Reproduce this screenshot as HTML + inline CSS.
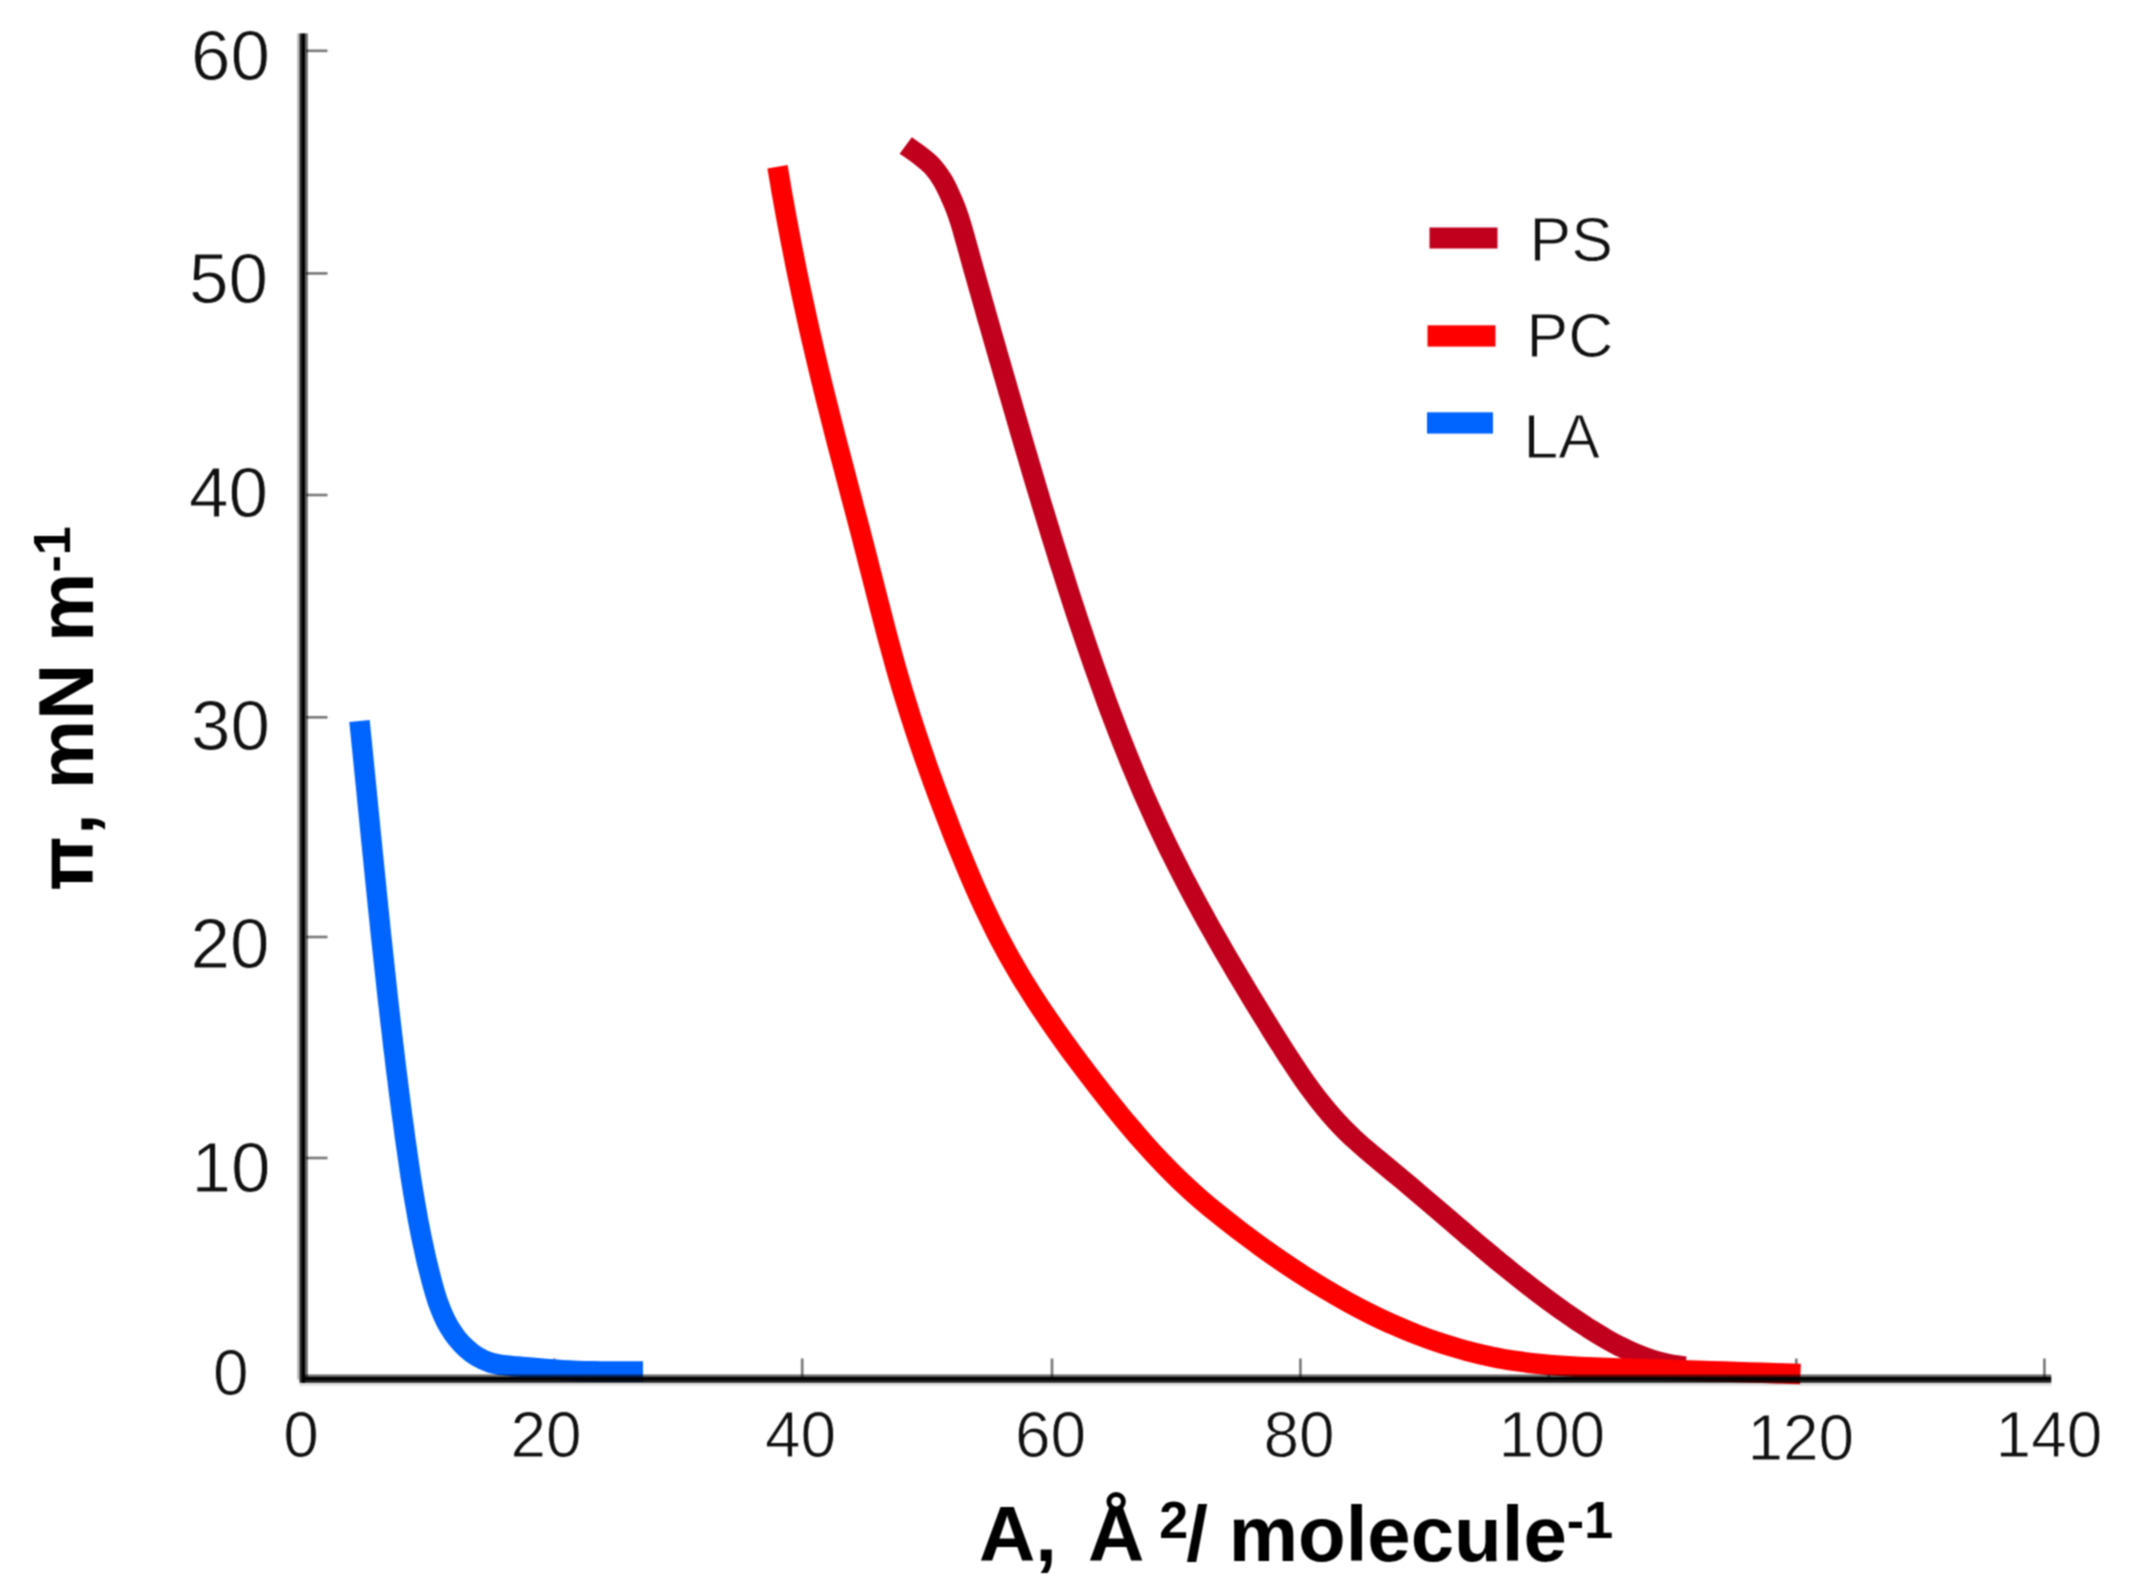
<!DOCTYPE html>
<html lang="en"><head><meta charset="utf-8"><title>Surface pressure isotherms</title>
<style>
html,body{margin:0;padding:0;background:#fff;}
body{width:2141px;height:1593px;overflow:hidden;}
svg{display:block;}
#wrap{width:2141px;height:1593px;}
text{font-family:"Liberation Sans",sans-serif;fill:#111;}
.tk,.tx,.lg{stroke:#fff;stroke-width:0.9px;}
.tk{font-size:71px;}
.tx{font-size:64px;}
.lg{font-size:62.5px;}
.ax{font-size:78px;font-weight:bold;fill:#000;}
.sup{font-size:52px;}
.pi{font-family:"WenQuanYi Zen Hei","Liberation Sans",sans-serif;font-weight:normal;font-size:82px;fill:#000;stroke:#000;stroke-width:3.5px;}
</style></head><body>
<div id="wrap">
<svg width="2141" height="1593" viewBox="0 0 2141 1593">
<defs><filter id="soft" x="0" y="0" width="2141" height="1593" filterUnits="userSpaceOnUse" color-interpolation-filters="sRGB"><feConvolveMatrix order="3" kernelMatrix="1 2 1 2 4 2 1 2 1" divisor="16" edgeMode="duplicate" preserveAlpha="true"/></filter></defs>
<g filter="url(#soft)">
<rect width="2141" height="1593" fill="#fff"/>
<g stroke="#000" stroke-opacity="0.52" stroke-width="2.7">
<line x1="306" y1="50.8" x2="327.5" y2="50.8"/>
<line x1="306" y1="273.4" x2="327.5" y2="273.4"/>
<line x1="306" y1="495" x2="327.5" y2="495"/>
<line x1="306" y1="717.3" x2="327.5" y2="717.3"/>
<line x1="306" y1="937" x2="327.5" y2="937"/>
<line x1="306" y1="1158" x2="327.5" y2="1158"/>
<line x1="554.5" y1="1358.5" x2="554.5" y2="1377"/>
<line x1="802.2" y1="1358.5" x2="802.2" y2="1377"/>
<line x1="1052" y1="1358.5" x2="1052" y2="1377"/>
<line x1="1300.4" y1="1358.5" x2="1300.4" y2="1377"/>
<line x1="1548.8" y1="1358.5" x2="1548.8" y2="1377"/>
<line x1="1796.3" y1="1358.5" x2="1796.3" y2="1377"/>
<line x1="2044.4" y1="1358.5" x2="2044.4" y2="1377"/>
</g>
<g fill="none" stroke-width="20.5" stroke-linecap="butt" stroke-linejoin="round">
<path stroke="#c0001c" d="M905.7 145.4 C908.0 147.1 915.1 151.8 919.5 155.3 C924.0 158.8 928.6 162.3 932.4 166.4 C936.2 170.5 939.4 175.1 942.3 179.9 C945.3 184.7 947.6 189.9 950.0 195.1 C952.3 200.2 954.6 205.4 956.5 210.7 C958.5 216.0 960.1 221.4 961.8 226.8 C963.4 232.2 964.8 237.7 966.4 243.2 C967.9 248.6 969.4 254.1 970.9 259.5 C972.4 265.0 973.9 270.4 975.5 275.9 C977.0 281.3 978.5 286.8 980.1 292.2 C981.6 297.6 983.1 303.1 984.7 308.5 C986.2 314.0 987.8 319.4 989.4 324.8 C990.9 330.3 992.5 335.7 994.0 341.1 C995.6 346.6 997.2 352.0 998.7 357.4 C1000.3 362.9 1001.9 368.3 1003.4 373.7 C1005.0 379.2 1006.6 384.6 1008.1 390.0 C1009.7 395.5 1011.3 400.9 1012.8 406.3 C1014.4 411.8 1016.0 417.2 1017.6 422.6 C1019.1 428.0 1020.7 433.5 1022.3 438.9 C1023.9 444.3 1025.5 449.8 1027.1 455.2 C1028.7 460.6 1030.3 466.0 1031.9 471.5 C1033.5 476.9 1035.1 482.3 1036.7 487.7 C1038.4 493.1 1040.0 498.5 1041.6 504.0 C1043.3 509.4 1044.9 514.8 1046.6 520.2 C1048.2 525.6 1049.9 531.0 1051.5 536.4 C1053.2 541.8 1054.9 547.2 1056.6 552.6 C1058.2 558.0 1059.9 563.4 1061.7 568.8 C1063.4 574.2 1065.1 579.6 1066.8 585.0 C1068.5 590.3 1070.3 595.7 1072.0 601.1 C1073.8 606.5 1075.6 611.9 1077.3 617.2 C1079.1 622.6 1080.9 628.0 1082.7 633.3 C1084.5 638.7 1086.3 644.0 1088.2 649.4 C1090.0 654.7 1091.9 660.1 1093.7 665.4 C1095.6 670.7 1097.5 676.1 1099.4 681.4 C1101.3 686.7 1103.2 692.0 1105.2 697.4 C1107.1 702.7 1109.1 708.0 1111.1 713.3 C1113.1 718.5 1115.1 723.8 1117.1 729.1 C1119.1 734.4 1121.2 739.6 1123.3 744.9 C1125.4 750.1 1127.5 755.4 1129.6 760.6 C1131.7 765.9 1133.9 771.1 1136.1 776.3 C1138.3 781.5 1140.5 786.7 1142.7 791.9 C1145.0 797.0 1147.3 802.2 1149.6 807.4 C1151.9 812.5 1154.2 817.7 1156.6 822.8 C1159.0 827.9 1161.4 833.0 1163.8 838.1 C1166.3 843.2 1168.7 848.3 1171.3 853.4 C1173.8 858.4 1176.3 863.5 1178.9 868.5 C1181.4 873.6 1184.0 878.6 1186.6 883.6 C1189.3 888.6 1191.9 893.6 1194.6 898.6 C1197.3 903.6 1200.0 908.5 1202.7 913.5 C1205.4 918.5 1208.2 923.4 1210.9 928.4 C1213.7 933.3 1216.5 938.2 1219.3 943.1 C1222.1 948.1 1225.0 953.0 1227.8 957.8 C1230.7 962.7 1233.5 967.6 1236.4 972.5 C1239.3 977.4 1242.2 982.2 1245.1 987.1 C1248.0 992.0 1251.0 996.8 1253.9 1001.6 C1256.9 1006.5 1259.8 1011.3 1262.8 1016.1 C1265.8 1020.9 1268.8 1025.8 1271.7 1030.6 C1274.7 1035.4 1277.7 1040.2 1280.8 1045.0 C1283.8 1049.7 1286.8 1054.5 1289.9 1059.2 C1293.0 1064.0 1296.1 1068.7 1299.3 1073.3 C1302.4 1078.0 1305.7 1082.6 1309.0 1087.2 C1312.3 1091.7 1315.6 1096.2 1319.1 1100.6 C1322.6 1105.0 1326.1 1109.4 1329.8 1113.6 C1333.4 1117.9 1337.2 1122.0 1341.1 1126.1 C1345.0 1130.2 1349.0 1134.1 1353.1 1138.0 C1357.3 1141.8 1361.5 1145.6 1365.8 1149.3 C1370.1 1153.0 1374.5 1156.7 1378.9 1160.3 C1383.3 1164.0 1387.7 1167.6 1392.1 1171.2 C1396.5 1174.8 1400.9 1178.5 1405.3 1182.1 C1409.6 1185.8 1414.0 1189.5 1418.3 1193.2 C1422.6 1196.8 1426.9 1200.5 1431.3 1204.2 C1435.6 1207.9 1439.9 1211.6 1444.2 1215.3 C1448.5 1219.0 1452.8 1222.7 1457.1 1226.3 C1461.4 1230.0 1465.6 1233.7 1469.9 1237.4 C1474.3 1241.0 1478.6 1244.7 1482.9 1248.3 C1487.2 1251.9 1491.5 1255.6 1495.9 1259.2 C1500.2 1262.8 1504.6 1266.3 1509.0 1269.9 C1513.3 1273.4 1517.7 1276.9 1522.2 1280.4 C1526.6 1283.9 1531.0 1287.4 1535.5 1290.8 C1540.0 1294.2 1544.5 1297.6 1549.1 1301.0 C1553.6 1304.3 1558.2 1307.6 1562.8 1310.9 C1567.4 1314.1 1572.1 1317.3 1576.8 1320.5 C1581.5 1323.6 1586.2 1326.8 1591.0 1329.8 C1595.8 1332.8 1600.6 1335.8 1605.5 1338.6 C1610.4 1341.5 1615.4 1344.2 1620.5 1346.7 C1625.5 1349.3 1630.6 1351.7 1635.8 1353.8 C1641.0 1356.0 1646.3 1358.0 1651.7 1359.7 C1657.1 1361.4 1662.5 1362.9 1668.1 1364.0 C1673.7 1365.2 1682.3 1366.2 1685.2 1366.6"/>
<path stroke="#ff0000" d="M777.5 166.7 C778.2 170.9 780.4 183.7 781.8 192.2 C783.3 200.6 784.8 209.1 786.4 217.6 C788.0 226.0 789.6 234.5 791.2 242.9 C792.8 251.4 794.5 259.8 796.2 268.2 C798.0 276.7 799.7 285.1 801.5 293.5 C803.3 301.9 805.1 310.3 807.0 318.7 C808.8 327.1 810.7 335.5 812.7 343.9 C814.6 352.3 816.6 360.6 818.6 369.0 C820.6 377.4 822.6 385.7 824.7 394.1 C826.8 402.4 828.9 410.8 831.0 419.1 C833.1 427.4 835.3 435.8 837.4 444.1 C839.6 452.4 841.8 460.7 844.0 469.1 C846.1 477.4 848.3 485.7 850.5 494.0 C852.7 502.3 854.9 510.7 857.1 519.0 C859.3 527.3 861.5 535.6 863.6 544.0 C865.8 552.3 867.9 560.6 870.0 569.0 C872.1 577.3 874.2 585.6 876.4 594.0 C878.5 602.3 880.6 610.6 882.8 618.9 C884.9 627.2 887.1 635.6 889.4 643.9 C891.6 652.2 893.9 660.4 896.2 668.7 C898.6 677.0 901.0 685.2 903.5 693.5 C906.0 701.7 908.6 709.9 911.2 718.1 C913.8 726.3 916.5 734.4 919.3 742.6 C922.0 750.7 924.9 758.9 927.7 767.0 C930.6 775.1 933.6 783.2 936.5 791.3 C939.5 799.4 942.6 807.4 945.7 815.5 C948.7 823.5 951.9 831.5 955.0 839.6 C958.2 847.6 961.5 855.5 964.8 863.5 C968.1 871.4 971.4 879.4 974.9 887.2 C978.4 895.1 981.9 902.9 985.6 910.7 C989.3 918.5 993.0 926.2 996.9 933.8 C1000.9 941.4 1004.9 949.0 1009.1 956.5 C1013.3 963.9 1017.6 971.3 1022.0 978.7 C1026.5 986.0 1031.1 993.3 1035.7 1000.5 C1040.4 1007.7 1045.2 1014.8 1050.1 1021.9 C1054.9 1029.0 1059.9 1036.1 1065.0 1043.1 C1070.0 1050.1 1075.1 1057.0 1080.3 1063.9 C1085.5 1070.8 1090.7 1077.7 1096.0 1084.5 C1101.3 1091.4 1106.6 1098.2 1112.1 1104.9 C1117.5 1111.7 1122.9 1118.4 1128.5 1125.0 C1134.0 1131.6 1139.6 1138.1 1145.3 1144.5 C1151.0 1150.9 1156.8 1157.2 1162.8 1163.4 C1168.7 1169.6 1174.7 1175.6 1180.9 1181.5 C1187.1 1187.4 1193.4 1193.1 1199.8 1198.7 C1206.3 1204.3 1212.8 1209.7 1219.5 1215.1 C1226.1 1220.5 1232.9 1225.7 1239.7 1230.9 C1246.6 1236.1 1253.5 1241.3 1260.5 1246.3 C1267.5 1251.4 1274.6 1256.4 1281.7 1261.3 C1288.9 1266.2 1296.1 1271.0 1303.4 1275.6 C1310.7 1280.3 1318.1 1284.9 1325.5 1289.3 C1333.0 1293.8 1340.5 1298.1 1348.1 1302.2 C1355.6 1306.4 1363.3 1310.4 1371.0 1314.2 C1378.7 1318.1 1386.5 1321.7 1394.4 1325.2 C1402.2 1328.7 1410.1 1332.0 1418.1 1335.0 C1426.1 1338.1 1434.1 1341.0 1442.2 1343.6 C1450.3 1346.2 1458.5 1348.7 1466.7 1350.9 C1474.9 1353.1 1483.2 1355.0 1491.5 1356.7 C1499.9 1358.5 1508.3 1359.9 1516.8 1361.2 C1525.2 1362.4 1533.8 1363.4 1542.3 1364.2 C1550.9 1365.1 1559.5 1365.7 1568.1 1366.3 C1576.7 1366.8 1585.4 1367.2 1594.0 1367.6 C1602.7 1367.9 1611.3 1368.2 1620.0 1368.5 C1628.6 1368.7 1637.3 1369.0 1645.9 1369.3 C1654.5 1369.5 1663.1 1369.8 1671.8 1370.0 C1680.4 1370.3 1689.0 1370.6 1697.6 1370.8 C1706.2 1371.1 1714.7 1371.4 1723.3 1371.6 C1731.9 1371.9 1740.5 1372.2 1749.1 1372.4 C1757.7 1372.7 1766.2 1373.0 1774.8 1373.3 C1783.4 1373.5 1796.2 1373.9 1800.5 1374.1"/>
<path stroke="#0064ff" d="M359.5 721.1 C359.7 723.4 360.4 730.3 360.9 735.0 C361.4 739.6 361.8 744.2 362.3 748.8 C362.8 753.5 363.2 758.1 363.7 762.7 C364.1 767.3 364.6 772.0 365.1 776.6 C365.5 781.2 366.0 785.8 366.5 790.5 C366.9 795.1 367.4 799.7 367.8 804.3 C368.3 809.0 368.7 813.6 369.2 818.2 C369.7 822.9 370.1 827.5 370.6 832.1 C371.0 836.7 371.5 841.4 372.0 846.0 C372.4 850.6 372.9 855.3 373.4 859.9 C373.8 864.5 374.3 869.2 374.8 873.8 C375.2 878.4 375.7 883.0 376.2 887.7 C376.6 892.3 377.1 896.9 377.6 901.6 C378.0 906.2 378.5 910.8 379.0 915.5 C379.5 920.1 380.0 924.7 380.4 929.3 C380.9 934.0 381.4 938.6 381.9 943.2 C382.4 947.9 382.9 952.5 383.4 957.1 C383.9 961.7 384.4 966.4 384.9 971.0 C385.4 975.6 385.9 980.3 386.4 984.9 C386.9 989.5 387.4 994.1 387.9 998.8 C388.4 1003.4 389.0 1008.0 389.5 1012.6 C390.0 1017.2 390.5 1021.9 391.1 1026.5 C391.6 1031.1 392.2 1035.7 392.7 1040.3 C393.2 1045.0 393.8 1049.6 394.4 1054.2 C394.9 1058.8 395.5 1063.4 396.0 1068.0 C396.6 1072.7 397.2 1077.3 397.8 1081.9 C398.3 1086.5 398.9 1091.1 399.5 1095.7 C400.1 1100.3 400.7 1104.9 401.3 1109.5 C401.9 1114.1 402.5 1118.7 403.2 1123.3 C403.8 1127.9 404.4 1132.5 405.0 1137.1 C405.7 1141.7 406.3 1146.3 407.0 1150.9 C407.6 1155.5 408.3 1160.1 409.0 1164.7 C409.6 1169.3 410.3 1173.9 411.0 1178.5 C411.8 1183.1 412.5 1187.7 413.2 1192.2 C414.0 1196.8 414.8 1201.4 415.6 1206.0 C416.4 1210.6 417.2 1215.1 418.0 1219.7 C418.9 1224.3 419.8 1228.8 420.7 1233.4 C421.6 1238.0 422.6 1242.5 423.6 1247.1 C424.5 1251.7 425.6 1256.2 426.6 1260.8 C427.7 1265.3 428.8 1269.9 430.0 1274.4 C431.1 1278.9 432.3 1283.5 433.6 1288.0 C434.9 1292.5 436.2 1297.0 437.7 1301.4 C439.3 1305.9 440.9 1310.2 442.8 1314.5 C444.6 1318.7 446.7 1322.9 449.0 1326.8 C451.4 1330.8 454.0 1334.7 456.8 1338.3 C459.7 1341.9 462.8 1345.3 466.2 1348.3 C469.5 1351.4 473.1 1354.2 477.0 1356.5 C480.9 1358.8 485.0 1360.8 489.4 1362.2 C493.7 1363.7 498.4 1364.5 503.1 1365.2 C507.8 1365.9 512.8 1366.1 517.6 1366.5 C522.3 1366.9 527.1 1367.3 531.7 1367.7 C536.4 1368.1 541.0 1368.5 545.6 1368.9 C550.2 1369.3 554.8 1369.6 559.4 1370.0 C564.0 1370.3 568.6 1370.5 573.2 1370.7 C577.8 1370.9 582.5 1371.1 587.1 1371.2 C591.8 1371.3 596.4 1371.3 601.1 1371.4 C605.8 1371.4 610.4 1371.4 615.1 1371.4 C619.8 1371.4 624.4 1371.4 629.1 1371.4 C633.7 1371.4 640.7 1371.4 643.0 1371.4"/>
</g>
<g fill="#000">
<rect x="297" y="33.4" width="2.5" height="1346.2" fill-opacity="0.24"/>
<rect x="299.5" y="33.4" width="2.5" height="1349.4" fill-opacity="0.85"/>
<rect x="302" y="33.4" width="3" height="1349.4"/>
<rect x="305" y="33.4" width="2.8" height="1343.6" fill-opacity="0.6"/>
<rect x="305" y="1374.5" width="1746.3" height="2.5" fill-opacity="0.6"/>
<rect x="305" y="1377" width="1746.3" height="3"/>
<rect x="302" y="1380" width="1749.3" height="2.8" fill-opacity="0.87"/>
<rect x="299.5" y="1383.3" width="1751.8" height="2.3" fill-opacity="0.15"/>
</g>
<rect x="1429.5" y="227.5" width="68" height="21" fill="#c0001c"/>
<rect x="1427.5" y="325.3" width="68" height="21.3" fill="#ff0000"/>
<rect x="1427" y="412.3" width="66" height="21.3" fill="#0064ff"/>
<text class="lg" x="1529.6" y="261.2">PS</text>
<text class="lg" x="1526.6" y="356.6">PC</text>
<text class="lg" x="1523.6" y="457.5">LA</text>
<text class="tk" text-anchor="end" x="270" y="80">60</text>
<text class="tk" text-anchor="end" x="268" y="303">50</text>
<text class="tk" text-anchor="end" x="268" y="516.5">40</text>
<text class="tk" text-anchor="end" x="270" y="749.8">30</text>
<text class="tk" text-anchor="end" x="269.5" y="967.8">20</text>
<text class="tk" text-anchor="end" x="270.5" y="1192">10</text>
<text class="tx" text-anchor="end" x="248.5" y="1395">0</text>
<text class="tx" text-anchor="middle" x="301" y="1456.5">0</text>
<text class="tx" text-anchor="middle" x="546" y="1456.8">20</text>
<text class="tx" text-anchor="middle" x="800.5" y="1456.8">40</text>
<text class="tx" text-anchor="middle" x="1050.6" y="1456.8">60</text>
<text class="tx" text-anchor="middle" x="1299" y="1456.8">80</text>
<text class="tx" text-anchor="middle" x="1551.8" y="1456.8">100</text>
<text class="tx" text-anchor="middle" x="1800.8" y="1459.5">120</text>
<text class="tx" text-anchor="middle" x="2049" y="1456.5">140</text>
<text class="ax" y="1561.2"><tspan x="979">A, </tspan><tspan x="1088">Å </tspan><tspan class="sup" x="1159.2" dy="-23">2</tspan><tspan x="1186.2" dy="23">/ </tspan><tspan x="1228.7">molecule</tspan><tspan class="sup" dy="-23">-1</tspan></text>
<g transform="translate(92.8 900) rotate(-90)">
<text class="pi" transform="translate(12.1 -1.7) scale(1 0.916)">π</text>
<text class="ax" y="0"><tspan x="65">, </tspan><tspan x="110.7">mN m</tspan><tspan class="sup" dy="-22.7">-1</tspan></text>
</g>
</g>
</svg>
</div></body></html>
